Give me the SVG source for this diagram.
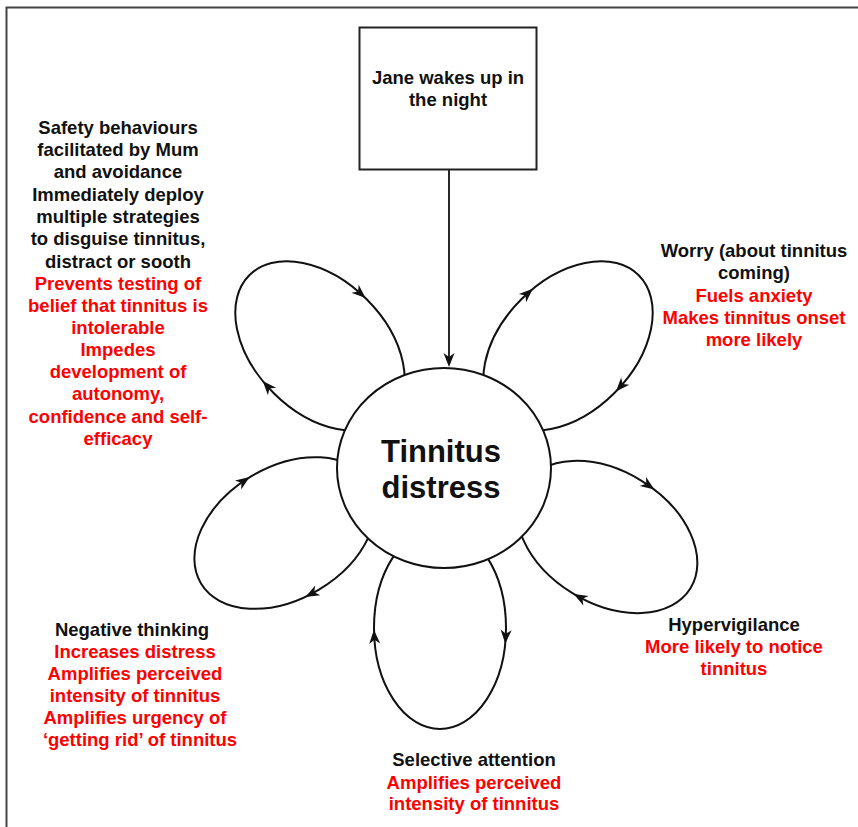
<svg xmlns="http://www.w3.org/2000/svg" width="858" height="827" viewBox="0 0 858 827">
<style>
.t{font-family:"Liberation Sans",Arial,sans-serif;font-weight:bold;font-size:18.5px;text-anchor:middle;fill:#111}
.r{fill:#ff0000}
.big{font-size:31px}
.loop{fill:none;stroke:#111;stroke-width:2}
.frame{fill:none;stroke:#444;stroke-width:2}
</style>
<defs>
<path id="ah" d="M7,0 L-7,-5.5 L-3,0 L-7,5.5 Z" fill="#111"/>
</defs>
<rect width="858" height="827" fill="#fff"/>
<path class="frame" d="M6.5,827 V7.5 H858"/>

<g id="connectors">
  <g id="loop-safety" transform="translate(320,346) rotate(-135)">
    <ellipse class="loop" rx="100" ry="66"/>
    <use href="#ah" transform="translate(8.7,-65.7) rotate(3.3)"/>
    <use href="#ah" transform="translate(8.7,65.7) rotate(176.7)"/>
  </g>
  <g id="loop-worry" transform="translate(568,346) rotate(-45)">
    <ellipse class="loop" rx="100" ry="66"/>
    <use href="#ah" transform="translate(8.7,-65.7) rotate(3.3)"/>
    <use href="#ah" transform="translate(8.7,65.7) rotate(176.7)"/>
  </g>
  <g id="loop-hyper" transform="translate(607,537) rotate(31.6)">
    <ellipse class="loop" rx="98" ry="66"/>
    <use href="#ah" transform="translate(8.5,-65.7) rotate(3.3)"/>
    <use href="#ah" transform="translate(8.5,65.7) rotate(176.7)"/>
  </g>
  <g id="loop-selective" transform="translate(440,628) rotate(90)">
    <ellipse class="loop" rx="101" ry="66"/>
    <use href="#ah" transform="translate(8.8,-65.7) rotate(3.3)"/>
    <use href="#ah" transform="translate(8.8,65.7) rotate(176.7)"/>
  </g>
  <g id="loop-negative" transform="translate(285,533) rotate(149)">
    <ellipse class="loop" rx="98" ry="66"/>
    <use href="#ah" transform="translate(8.5,-65.7) rotate(3.3)"/>
    <use href="#ah" transform="translate(8.5,65.7) rotate(176.7)"/>
  </g>
  <g id="arrow-jane">
    <line x1="449" y1="170" x2="449" y2="358" stroke="#111" stroke-width="1.8"/>
    <use href="#ah" transform="translate(449,360) rotate(90)"/>
  </g>
</g>

<g id="node-distress">
  <ellipse cx="444" cy="468" rx="107" ry="100" fill="#fff" stroke="#111" stroke-width="2"/>
  <text class="t big" x="441" y="462">Tinnitus</text>
  <text class="t big" x="441" y="498">distress</text>
</g>

<g id="node-jane">
  <rect x="359.5" y="27.5" width="177" height="142" fill="#fff" stroke="#222" stroke-width="2"/>
  <text class="t" x="448" y="84">Jane wakes up in</text>
  <text class="t" x="448" y="106">the night</text>
</g>

<g id="label-safety">
  <text class="t" x="118" y="134">Safety behaviours</text>
  <text class="t" x="118" y="156">facilitated by Mum</text>
  <text class="t" x="118" y="178">and avoidance</text>
  <text class="t" x="118" y="201">Immediately deploy</text>
  <text class="t" x="118" y="223">multiple strategies</text>
  <text class="t" x="118" y="245">to disguise tinnitus,</text>
  <text class="t" x="118" y="268">distract or sooth</text>
  <text class="t r" x="118" y="290">Prevents testing of</text>
  <text class="t r" x="118" y="312">belief that tinnitus is</text>
  <text class="t r" x="118" y="334">intolerable</text>
  <text class="t r" x="118" y="356">Impedes</text>
  <text class="t r" x="118" y="378">development of</text>
  <text class="t r" x="118" y="400">autonomy,</text>
  <text class="t r" x="118" y="423">confidence and self-</text>
  <text class="t r" x="118" y="445">efficacy</text>
</g>

<g id="label-worry">
  <text class="t" x="754" y="257">Worry (about tinnitus</text>
  <text class="t" x="754" y="279">coming)</text>
  <text class="t r" x="754" y="302">Fuels anxiety</text>
  <text class="t r" x="754" y="324">Makes tinnitus onset</text>
  <text class="t r" x="754" y="346">more likely</text>
</g>

<g id="label-hyper">
  <text class="t" x="734" y="631">Hypervigilance</text>
  <text class="t r" x="734" y="653">More likely to notice</text>
  <text class="t r" x="734" y="675">tinnitus</text>
</g>

<g id="label-selective">
  <text class="t" x="474" y="766">Selective attention</text>
  <text class="t r" x="474" y="789">Amplifies perceived</text>
  <text class="t r" x="474" y="810">intensity of tinnitus</text>
</g>

<g id="label-negative">
  <text class="t" x="132" y="636">Negative thinking</text>
  <text class="t r" x="135" y="658">Increases distress</text>
  <text class="t r" x="135" y="680">Amplifies perceived</text>
  <text class="t r" x="135" y="702">intensity of tinnitus</text>
  <text class="t r" x="135" y="724">Amplifies urgency of</text>
  <text class="t r" x="140" y="746">‘getting rid’ of tinnitus</text>
</g>
</svg>
